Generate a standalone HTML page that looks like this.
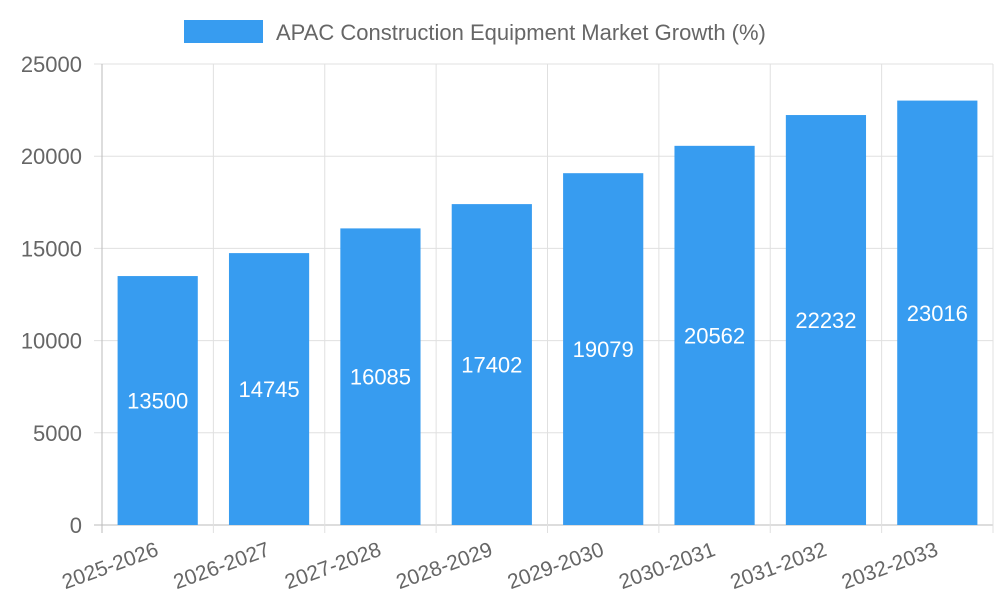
<!DOCTYPE html>
<html><head><meta charset="utf-8"><style>
html,body{margin:0;padding:0;background:#fff;}
svg{display:block;font-family:"Liberation Sans",Arial,sans-serif;}
</style></head><body>
<svg id="chart" width="1000" height="600" viewBox="0 0 1000 600" xmlns="http://www.w3.org/2000/svg">
<g>
<rect x="184" y="20" width="79" height="23" fill="#379cf0"/>
<text x="276" y="40" font-size="22" fill="#666">APAC Construction Equipment Market Growth (%)</text>
</g>
<g id="grid"></g>
<g id="bars"></g>
<g id="axes"></g>
</svg>
<script>
const categories = ["2025-2026","2026-2027","2027-2028","2028-2029","2029-2030","2030-2031","2031-2032","2032-2033"];
const values = [13500,14745,16085,17402,19079,20562,22232,23016];
const yTicks = [0,5000,10000,15000,20000,25000];

const NS="http://www.w3.org/2000/svg";
const L=102,R=993,T=64,B=525,yMax=25000;
const band=(R-L)/categories.length;
const y=v=>B-(v/yMax)*(B-T);
const xC=i=>L+band*(i+0.5);
function mk(tag,attrs,parent,text){const e=document.createElementNS(NS,tag);for(const k in attrs)e.setAttribute(k,attrs[k]);if(text!==undefined)e.textContent=text;parent.appendChild(e);return e;}
const grid=document.getElementById('grid'),bars=document.getElementById('bars'),axes=document.getElementById('axes');
yTicks.forEach(t=>{
  const ln=mk('line',{x1:L-8,x2:R,y1:y(t),y2:y(t),stroke:t===0?'#bbb':'#e0e0e0','stroke-width':1},grid);
  
  
  const tx=mk('text',{x:L-20,y:y(t)+8,'text-anchor':'end','font-size':22,fill:'#666'},axes,String(t));
  
  
});
for(let i=0;i<=categories.length;i++){
  const x=L+band*i;
  const ln=mk('line',{x1:x,x2:x,y1:T,y2:B+8,stroke:i===0?'#bbb':'#e0e0e0','stroke-width':1},grid);
  
  
}
const bw=band*0.72;
values.forEach((v,i)=>{
  const r=mk('rect',{x:xC(i)-bw/2,y:y(v),width:bw,height:B-y(v),fill:'#379cf0'},bars);
  
  
  const t=mk('text',{x:xC(i),y:(y(v)+B)/2+8,'text-anchor':'middle','font-size':22,fill:'#fff'},bars,String(v));
  
  
});
categories.forEach((c,i)=>{
  const x=xC(i)+2,yy=B+30;
  const t=mk('text',{x:x,y:yy,'text-anchor':'end','font-size':21,fill:'#666',transform:`rotate(-20 ${x} ${yy})`},axes,c);
  
  
});
</script>
</body></html>
